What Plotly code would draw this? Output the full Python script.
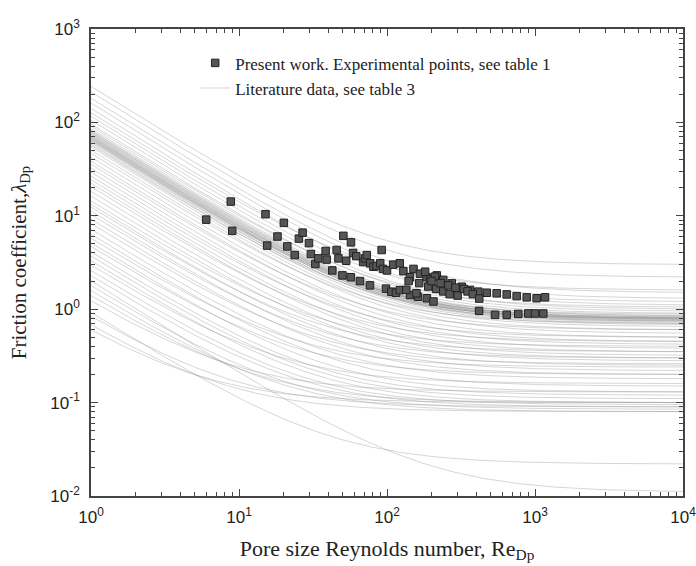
import numpy as np
import plotly.graph_objects as go

# ---- Literature correlations: lambda = A/Re + B ----
lit_A = [240, 210, 180, 160, 140, 125, 115, 105, 95, 90, 85, 82, 78, 75, 72, 70, 68, 66,
         64, 62, 60, 58, 56, 54, 50, 46, 42, 38, 35, 32, 29, 26, 24, 22, 20, 18, 16, 14,
         13, 12, 11, 10, 9, 8, 7, 6.2, 5.5, 5, 4.5, 4, 3.6, 3.2, 2.8, 2.5, 2.2, 2.0, 1.7,
         1.5, 1.3, 1.1, 0.9, 0.75, 0.6, 0.5,
         80, 77, 74, 71, 69, 67, 65, 63]
lit_B = [3.0, 2.2, 1.5, 1.3, 1.1, 1.6, 1.2, 1.0, 0.95, 1.05, 0.9, 0.85, 0.8, 0.78, 0.75,
         0.82, 0.72, 0.7, 0.88, 0.68, 0.74, 0.65, 0.8, 0.6, 0.55, 0.7, 0.5, 0.45, 0.6, 0.42,
         0.38, 0.5, 0.35, 0.32, 0.45, 0.3, 0.28, 0.4, 0.25, 0.35, 0.22, 0.3, 0.2, 0.26, 0.18,
         0.15, 0.24, 0.13, 0.2, 0.12, 0.11, 0.1, 0.16, 0.095, 0.09, 0.011, 0.085, 0.08, 0.1,
         0.13, 0.022, 0.09, 0.08, 0.1,
         0.84, 0.8, 0.77, 0.82, 0.76, 0.79, 0.74, 0.78]

# ---- Present work experimental points ----
exp_Re = [6.0, 8.8, 9.0, 15.1, 15.5, 18.2, 20.1, 21.2, 23.8, 25.4, 26.9, 29.7,
          30.6, 32.8, 34.3, 38.5, 39.1, 42.7, 45.7, 47, 50.7, 57.1, 50, 57, 65.7, 76.7,
          92, 98.5, 107, 115, 122, 143, 162, 135, 158, 186, 206,
          53, 59, 62, 69, 71, 73, 77, 81, 85, 90, 94, 100, 110, 122, 129, 143, 151, 167,
          185, 195, 217,
          181, 211, 240, 274, 320, 364, 414, 472, 551, 644, 752, 879, 1026, 1169,
          419, 537, 644, 771, 901, 1000, 1138,
          140, 165, 190, 215, 240, 265, 300, 230, 200, 260, 290, 330, 350, 380, 420]
exp_lam = [9.1, 14.2, 6.9, 10.4, 4.8, 6.0, 8.4, 4.7, 3.8, 5.7, 6.6, 5.1,
           3.9, 3.05, 3.5, 4.2, 3.4, 2.6, 4.3, 3.5, 6.1, 5.2, 2.3, 2.2, 2.0, 1.8,
           4.3, 1.66, 1.54, 1.5, 1.6, 1.42, 1.36, 1.61, 1.48, 1.31, 1.21,
           3.3, 4.0, 3.7, 3.2, 3.5, 3.8, 3.1, 2.85, 2.9, 3.1, 2.7, 2.6, 3.0, 3.1, 2.55, 2.2, 2.7, 2.4,
           2.2, 2.1, 2.3,
           2.52, 2.23, 2.06, 1.89, 1.74, 1.61, 1.54, 1.50, 1.48, 1.44, 1.38, 1.34, 1.31, 1.34,
           0.96, 0.87, 0.87, 0.89, 0.90, 0.90, 0.90,
           2.0, 1.9, 1.75, 1.65, 1.55, 1.45, 1.4, 1.9, 2.0, 1.8, 1.7, 1.65, 1.55, 1.45, 1.3]

x_ticks = [1, 10, 100, 1000, 10000]
x_ticktext = ["10<sup>0</sup>", "10<sup>1</sup>", "10<sup>2</sup>", "10<sup>3</sup>", "10<sup>4</sup>"]
y_ticks = [0.01, 0.1, 1, 10, 100, 1000]
y_ticktext = ["10<sup>-2</sup>", "10<sup>-1</sup>", "10<sup>0</sup>", "10<sup>1</sup>",
              "10<sup>2</sup>", "10<sup>3</sup>"]

re_grid = np.logspace(0, 4, 160)

fig = go.Figure()
for i, (a, b) in enumerate(zip(lit_A, lit_B)):
    fig.add_trace(go.Scatter(
        x=re_grid, y=a / re_grid + b, mode="lines",
        line=dict(color="rgba(140,140,140,0.36)", width=1),
        name="Literature data, see table 3",
        showlegend=(i == 0), legendgroup="lit", legendrank=2,
        hoverinfo="skip"))

fig.add_trace(go.Scatter(
    x=exp_Re, y=exp_lam, mode="markers",
    marker=dict(symbol="square", size=7.5, color="#555555",
                line=dict(color="#222222", width=1)),
    name="Present work. Experimental points, see table 1",
    legendgroup="exp", legendrank=1))

minor_x = [m * 10 ** d for d in range(0, 4) for m in range(2, 10)]
minor_y = [m * 10 ** d for d in range(-2, 3) for m in range(2, 10)]

axis_common = dict(
    type="log", showline=True, linecolor="#444", linewidth=1.5, mirror="ticks",
    ticks="inside", ticklen=7, tickwidth=1, tickcolor="#444", showgrid=False,
    zeroline=False, automargin=False, ticklabeloverflow="allow",
    tickfont=dict(family="Liberation Sans", size=17, color="#222"),
)

fig.update_layout(
    width=696, height=566,
    margin=dict(l=91, r=13, t=29, b=70),
    plot_bgcolor="white", paper_bgcolor="white",
    xaxis=dict(
        range=[0, 4], tickvals=x_ticks, ticktext=x_ticktext, ticklabelstandoff=5,
        minor=dict(ticks="inside", ticklen=4, tickvals=minor_x, tickcolor="#444"),
        title=dict(text="Pore size Reynolds number, Re<sub>Dp</sub>",
                   font=dict(family="Liberation Serif", size=22, color="#222"),
                   standoff=14),
        **axis_common),
    yaxis=dict(
        range=[-2, 3], tickvals=y_ticks, ticktext=y_ticktext, ticklabelstandoff=6,
        minor=dict(ticks="inside", ticklen=4, tickvals=minor_y, tickcolor="#444"),
        title=dict(text="Friction coefficient,<i>λ</i><sub>Dp</sub>",
                   font=dict(family="Liberation Serif", size=21, color="#222"),
                   standoff=18),
        **axis_common),
    legend=dict(
        x=0.176, y=0.965, xanchor="left", yanchor="top",
        bgcolor="rgba(0,0,0,0)", tracegroupgap=0,
        font=dict(family="Liberation Serif", size=17, color="#222")),
)

fig.write_html("out.html")
